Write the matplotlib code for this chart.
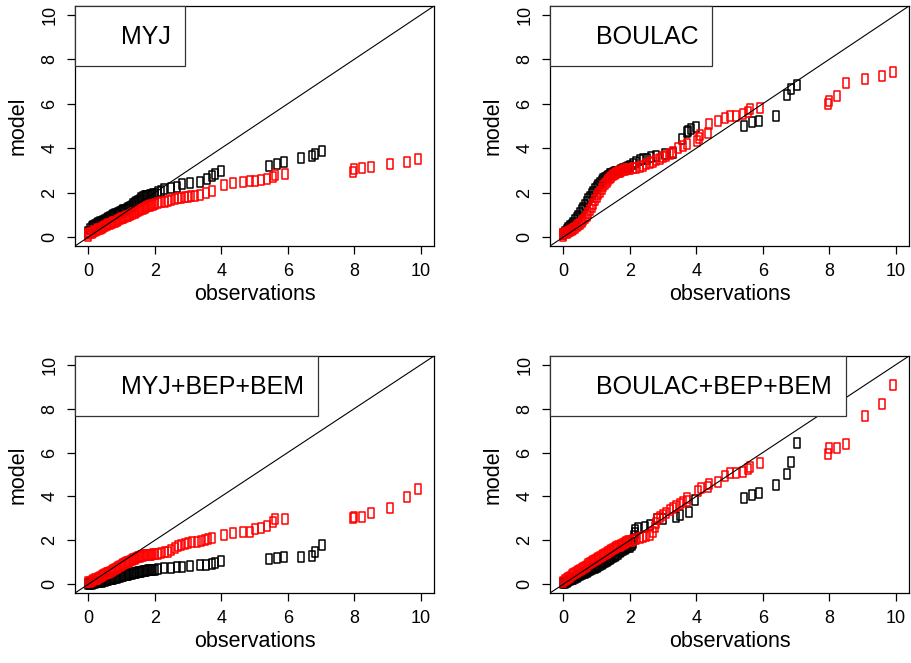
import matplotlib
matplotlib.use("Agg")
import matplotlib.pyplot as plt
from matplotlib.lines import Line2D
from matplotlib.path import Path

plt.rcParams['font.family'] = ['Liberation Sans', 'DejaVu Sans']

titles = ["MYJ", "BOULAC", "MYJ+BEP+BEM", "BOULAC+BEP+BEM"]

myj_black = [(0.00, 0.25), (0.05, 0.36), (0.10, 0.45), (0.15, 0.50), (0.20, 0.55), (0.25, 0.59), (0.30, 0.62),
             (0.35, 0.66), (0.40, 0.70), (0.45, 0.74), (0.50, 0.78), (0.55, 0.83), (0.60, 0.88), (0.65, 0.92),
             (0.70, 0.95), (0.75, 0.99), (0.80, 1.02), (0.85, 1.06), (0.90, 1.10), (0.95, 1.13), (1.00, 1.17),
             (1.05, 1.20), (1.10, 1.24), (1.15, 1.28), (1.20, 1.32), (1.25, 1.37), (1.30, 1.42), (1.35, 1.47),
             (1.40, 1.52), (1.45, 1.57), (1.50, 1.62), (1.55, 1.68), (1.60, 1.75), (1.65, 1.79), (1.70, 1.83),
             (1.75, 1.85), (1.80, 1.87), (1.85, 1.89), (1.90, 1.90), (1.95, 1.92), (2.00, 1.95), (2.10, 2.02),
             (2.20, 2.06), (2.29, 2.16), (2.49, 2.20), (2.66, 2.24), (2.81, 2.40), (3.06, 2.43), (3.37, 2.48),
             (3.56, 2.61), (3.73, 2.73), (3.81, 2.84), (3.98, 2.96), (5.44, 3.18), (5.67, 3.30), (5.89, 3.36),
             (6.40, 3.54), (6.74, 3.66), (6.83, 3.72), (7.02, 3.86)]
myj_red = [(0.00, 0.05), (0.00, 0.15), (0.05, 0.17), (0.10, 0.20), (0.15, 0.24), (0.20, 0.28), (0.25, 0.31),
           (0.30, 0.35), (0.35, 0.38), (0.40, 0.42), (0.45, 0.46), (0.50, 0.50), (0.55, 0.53), (0.60, 0.57),
           (0.65, 0.60), (0.70, 0.64), (0.75, 0.67), (0.80, 0.70), (0.85, 0.74), (0.90, 0.77), (0.95, 0.80),
           (1.00, 0.84), (1.05, 0.87), (1.10, 0.90), (1.15, 0.93), (1.20, 0.97), (1.25, 1.00), (1.30, 1.04),
           (1.35, 1.07), (1.40, 1.10), (1.45, 1.13), (1.50, 1.17), (1.55, 1.21), (1.60, 1.25), (1.65, 1.28),
           (1.70, 1.32), (1.75, 1.35), (1.80, 1.38), (1.85, 1.40), (1.90, 1.43), (1.95, 1.45), (2.00, 1.48),
           (2.10, 1.53), (2.20, 1.56), (2.30, 1.60), (2.40, 1.64), (2.50, 1.68), (2.60, 1.71), (2.70, 1.74),
           (2.80, 1.77), (2.90, 1.80), (3.00, 1.82), (3.10, 1.84), (3.20, 1.86), (3.36, 1.89), (3.53, 1.97),
           (3.73, 2.07), (4.08, 2.36), (4.36, 2.45), (4.64, 2.48), (4.86, 2.51), (5.02, 2.54), (5.19, 2.57),
           (5.37, 2.61), (5.55, 2.72), (5.62, 2.79), (5.92, 2.85), (7.95, 2.91), (7.98, 3.08), (8.22, 3.10),
           (8.51, 3.14), (9.07, 3.27), (9.60, 3.36), (9.93, 3.50)]

boulac_black = [(0.00, 0.15), (0.05, 0.22), (0.10, 0.30), (0.15, 0.39), (0.20, 0.48), (0.25, 0.56), (0.30, 0.65),
                (0.35, 0.75), (0.40, 0.85), (0.45, 0.96), (0.50, 1.08), (0.55, 1.20), (0.60, 1.33), (0.65, 1.45),
                (0.70, 1.58), (0.75, 1.70), (0.80, 1.82), (0.85, 1.94), (0.90, 2.05), (0.95, 2.15), (1.00, 2.25),
                (1.05, 2.35), (1.10, 2.45), (1.15, 2.53), (1.20, 2.60), (1.25, 2.66), (1.30, 2.72), (1.35, 2.77),
                (1.40, 2.82), (1.45, 2.85), (1.50, 2.88), (1.55, 2.91), (1.60, 2.93), (1.65, 2.95), (1.70, 2.98),
                (1.75, 3.01), (1.80, 3.05), (1.85, 3.08), (1.90, 3.12), (1.95, 3.16), (2.00, 3.20), (2.10, 3.30),
                (2.20, 3.40), (2.30, 3.47), (2.40, 3.50), (2.51, 3.53), (2.65, 3.60), (2.79, 3.65), (3.06, 3.73),
                (3.30, 3.80), (3.56, 4.41), (3.73, 4.71), (3.76, 4.79), (3.85, 4.85), (3.98, 4.94), (5.44, 5.02),
                (5.68, 5.17), (5.89, 5.23), (6.40, 5.47), (6.74, 6.40), (6.84, 6.67), (7.02, 6.85)]
boulac_red = [(0.00, 0.05), (0.00, 0.15), (0.05, 0.17), (0.10, 0.20), (0.15, 0.24), (0.20, 0.28), (0.25, 0.33),
              (0.30, 0.38), (0.35, 0.43), (0.40, 0.48), (0.45, 0.54), (0.50, 0.60), (0.55, 0.67), (0.60, 0.75),
              (0.65, 0.85), (0.70, 0.95), (0.75, 1.07), (0.80, 1.20), (0.85, 1.35), (0.90, 1.50), (0.95, 1.65),
              (1.00, 1.80), (1.05, 1.93), (1.10, 2.05), (1.15, 2.17), (1.20, 2.28), (1.25, 2.38), (1.30, 2.48),
              (1.35, 2.57), (1.40, 2.65), (1.45, 2.72), (1.50, 2.78), (1.55, 2.83), (1.60, 2.88), (1.65, 2.92),
              (1.70, 2.95), (1.75, 2.98), (1.80, 3.00), (1.85, 3.03), (1.90, 3.05), (1.95, 3.07), (2.00, 3.08),
              (2.10, 3.10), (2.20, 3.12), (2.30, 3.15), (2.40, 3.20), (2.50, 3.27), (2.60, 3.33), (2.70, 3.40),
              (2.80, 3.47), (2.90, 3.53), (3.00, 3.60), (3.10, 3.65), (3.20, 3.72), (3.31, 3.83), (3.46, 4.03),
              (3.60, 4.10), (3.71, 4.20), (4.02, 4.33), (4.07, 4.45), (4.11, 4.59), (4.34, 4.70), (4.37, 5.09),
              (4.64, 5.24), (4.86, 5.36), (5.00, 5.44), (5.19, 5.47), (5.40, 5.54), (5.55, 5.65), (5.62, 5.77),
              (5.92, 5.80), (7.95, 5.99), (7.98, 6.14), (8.22, 6.37), (8.51, 6.92), (9.07, 7.12), (9.60, 7.27),
              (9.93, 7.45)]

myjbep_black = [(0.00, 0.00), (0.05, 0.02), (0.10, 0.03), (0.15, 0.05), (0.20, 0.06), (0.25, 0.08), (0.30, 0.09),
                (0.35, 0.11), (0.40, 0.12), (0.45, 0.14), (0.50, 0.16), (0.55, 0.18), (0.60, 0.20), (0.65, 0.22),
                (0.70, 0.24), (0.75, 0.26), (0.80, 0.28), (0.85, 0.30), (0.90, 0.32), (0.95, 0.34), (1.00, 0.36),
                (1.05, 0.38), (1.10, 0.40), (1.15, 0.42), (1.20, 0.44), (1.25, 0.46), (1.30, 0.48), (1.35, 0.50),
                (1.40, 0.51), (1.45, 0.53), (1.50, 0.54), (1.55, 0.56), (1.60, 0.57), (1.65, 0.59), (1.70, 0.60),
                (1.75, 0.62), (1.80, 0.63), (1.85, 0.64), (1.90, 0.65), (1.95, 0.66), (2.00, 0.67), (2.11, 0.70),
                (2.29, 0.72), (2.49, 0.75), (2.66, 0.77), (2.81, 0.80), (3.06, 0.83), (3.37, 0.87), (3.54, 0.87),
                (3.71, 0.91), (3.81, 0.98), (3.98, 1.06), (5.44, 1.15), (5.67, 1.18), (5.89, 1.22), (6.40, 1.22),
                (6.74, 1.28), (6.83, 1.48), (7.02, 1.79)]
myjbep_red = [(0.00, 0.10), (0.05, 0.12), (0.10, 0.15), (0.15, 0.18), (0.20, 0.22), (0.25, 0.26), (0.30, 0.30),
              (0.35, 0.34), (0.40, 0.38), (0.45, 0.41), (0.50, 0.45), (0.55, 0.49), (0.60, 0.53), (0.65, 0.57),
              (0.70, 0.61), (0.75, 0.65), (0.80, 0.69), (0.85, 0.73), (0.90, 0.77), (0.95, 0.81), (1.00, 0.86),
              (1.05, 0.90), (1.10, 0.95), (1.15, 0.99), (1.20, 1.03), (1.25, 1.06), (1.30, 1.10), (1.35, 1.14),
              (1.40, 1.17), (1.45, 1.20), (1.50, 1.22), (1.55, 1.25), (1.60, 1.27), (1.65, 1.29), (1.70, 1.31),
              (1.75, 1.32), (1.80, 1.33), (1.85, 1.34), (1.90, 1.35), (1.95, 1.37), (2.00, 1.38), (2.10, 1.40),
              (2.20, 1.42), (2.30, 1.45), (2.40, 1.48), (2.50, 1.55), (2.60, 1.63), (2.70, 1.72), (2.80, 1.78),
              (2.90, 1.84), (3.00, 1.89), (3.13, 1.92), (3.26, 1.94), (3.38, 1.97), (3.51, 2.01), (3.60, 2.05),
              (3.73, 2.12), (4.08, 2.24), (4.36, 2.33), (4.64, 2.36), (4.86, 2.39), (5.02, 2.50), (5.19, 2.55),
              (5.38, 2.65), (5.57, 2.85), (5.62, 2.96), (5.92, 2.96), (7.95, 3.00), (7.98, 3.08), (8.22, 3.08),
              (8.51, 3.23), (9.07, 3.46), (9.60, 3.99), (9.93, 4.32)]

boulacbep_black = [(0.00, 0.05), (0.05, 0.07), (0.10, 0.10), (0.15, 0.14), (0.20, 0.18), (0.25, 0.22),
                   (0.30, 0.26), (0.35, 0.29), (0.40, 0.33), (0.45, 0.37), (0.50, 0.41), (0.55, 0.45),
                   (0.60, 0.49), (0.65, 0.53), (0.70, 0.57), (0.75, 0.60), (0.80, 0.64), (0.85, 0.68),
                   (0.90, 0.72), (0.95, 0.76), (1.00, 0.80), (1.05, 0.83), (1.10, 0.87), (1.15, 0.91),
                   (1.20, 0.96), (1.25, 1.00), (1.30, 1.05), (1.35, 1.09), (1.40, 1.14), (1.45, 1.18),
                   (1.50, 1.23), (1.55, 1.28), (1.60, 1.33), (1.65, 1.39), (1.70, 1.45), (1.75, 1.50),
                   (1.80, 1.56), (1.85, 1.60), (1.90, 1.64), (1.95, 1.68), (2.00, 1.71), (2.08, 1.78),
                   (2.10, 1.90), (2.12, 2.05), (2.14, 2.20), (2.15, 2.35), (2.16, 2.47), (2.26, 2.54),
                   (2.46, 2.62), (2.61, 2.70), (2.81, 2.95), (3.00, 2.98), (3.39, 3.07), (3.51, 3.15),
                   (3.77, 3.30), (3.97, 3.83), (5.44, 3.91), (5.68, 4.05), (5.89, 4.17), (6.40, 4.52),
                   (6.74, 5.02), (6.84, 5.58), (7.02, 6.42)]
boulacbep_red = [(0.00, 0.10), (0.05, 0.18), (0.10, 0.25), (0.15, 0.30), (0.20, 0.35), (0.25, 0.40), (0.30, 0.45),
                 (0.35, 0.50), (0.40, 0.55), (0.45, 0.60), (0.50, 0.65), (0.55, 0.70), (0.60, 0.75), (0.65, 0.80),
                 (0.70, 0.85), (0.75, 0.90), (0.80, 0.95), (0.85, 1.00), (0.90, 1.05), (0.95, 1.10), (1.00, 1.15),
                 (1.05, 1.20), (1.10, 1.24), (1.15, 1.29), (1.20, 1.33), (1.25, 1.38), (1.30, 1.42), (1.35, 1.47),
                 (1.40, 1.51), (1.45, 1.56), (1.50, 1.60), (1.55, 1.64), (1.60, 1.68), (1.65, 1.72), (1.70, 1.76),
                 (1.75, 1.80), (1.80, 1.84), (1.85, 1.88), (1.90, 1.92), (1.95, 1.95), (2.00, 1.97), (2.10, 2.02),
                 (2.20, 2.06), (2.30, 2.10), (2.40, 2.14), (2.50, 2.18), (2.60, 2.25), (2.70, 2.40), (2.75, 2.60),
                 (2.78, 2.80), (2.82, 2.95), (2.90, 3.05), (3.00, 3.15), (3.10, 3.25), (3.20, 3.38), (3.30, 3.48),
                 (3.40, 3.56), (3.50, 3.64), (3.60, 3.76), (3.71, 3.80), (3.73, 3.95), (4.06, 4.25), (4.13, 4.37),
                 (4.36, 4.44), (4.37, 4.57), (4.64, 4.66), (4.86, 4.94), (5.02, 5.08), (5.19, 5.08), (5.40, 5.11),
                 (5.57, 5.25), (5.62, 5.35), (5.92, 5.54), (7.95, 5.92), (7.98, 6.20), (8.22, 6.22), (8.51, 6.39),
                 (9.07, 7.68), (9.60, 8.21), (9.93, 9.08)]

black_series = [myj_black, boulac_black, myjbep_black, boulacbep_black]
red_series = [myj_red, boulac_red, myjbep_red, boulacbep_red]

ticks = [0, 2, 4, 6, 8, 10]

# tall open rectangle, like the squashed pch=0 of the original
box = Path([(-0.32, -0.5), (0.32, -0.5), (0.32, 0.5), (-0.32, 0.5), (-0.32, -0.5)],
           [Path.MOVETO, Path.LINETO, Path.LINETO, Path.LINETO, Path.CLOSEPOLY])

fig = plt.figure(figsize=(9.12, 6.63), dpi=100)
W, H = 912, 663
positions = [(75, 6, 359, 240), (550, 6, 359, 240), (75, 356, 359, 237), (550, 356, 359, 237)]

for i in range(4):
    x0, y0, w, h = positions[i]
    ax = fig.add_axes([x0 / W, 1 - (y0 + h) / H, w / W, h / H])
    bo, bm = zip(*black_series[i])
    ro, rm = zip(*red_series[i])
    ax.plot(bo, bm, linestyle='none', marker=box, markersize=6.6, markerfacecolor='none',
            markeredgecolor='black', markeredgewidth=1.1)
    ax.plot(ro, rm, linestyle='none', marker=box, markersize=6.6, markerfacecolor='none',
            markeredgecolor='#ff0000', markeredgewidth=1.1)
    ax.axline((0, 0), slope=1, color='black', linewidth=0.8)
    ax.set_xlim(-0.4, 10.4)
    ax.set_ylim(-0.4, 10.4)
    ax.set_xticks(ticks)
    ax.set_yticks(ticks)
    ax.tick_params(length=6, width=0.9, pad=6, labelsize=13, direction='out')
    for lab in ax.get_yticklabels():
        lab.set_rotation(90)
        lab.set_va('center')
    for s in ax.spines.values():
        s.set_linewidth(0.9)
    ax.set_xlabel('observations', fontsize=15.5, labelpad=3)
    ax.set_ylabel('model', fontsize=15.5, labelpad=9)
    leg = ax.legend([Line2D([], [], linestyle='none')], [titles[i]], loc='upper left',
                    bbox_to_anchor=(0, 1), borderaxespad=0, fancybox=False, framealpha=1,
                    edgecolor='#333333', fontsize=18, borderpad=0.55, handlelength=0.85,
                    handletextpad=0.44, handleheight=1.6)
    leg.get_frame().set_linewidth(0.9)

fig.savefig('out.png', dpi=100)
